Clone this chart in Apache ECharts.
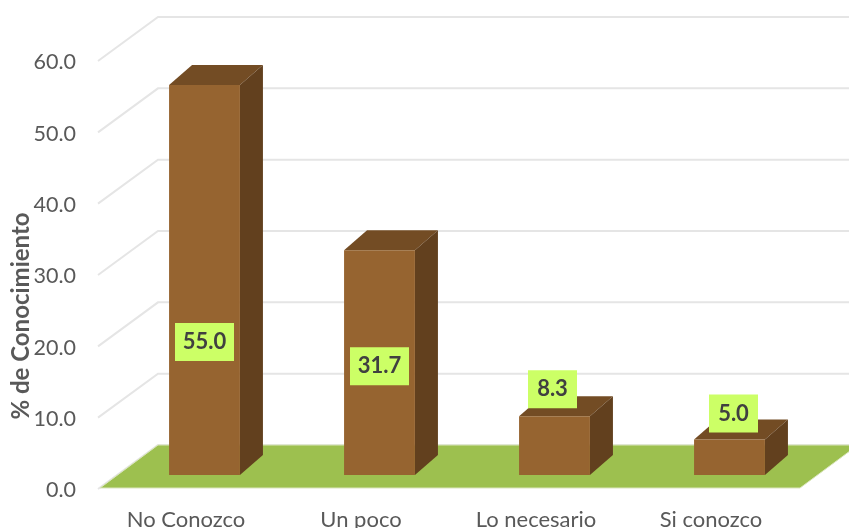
<!DOCTYPE html>
<html>
<head>
<meta charset="utf-8">
<style>
html, body { margin: 0; padding: 0; background: #fff; }
#chart { width: 849px; height: 528px; }
</style>
<script src="https://cdn.jsdelivr.net/npm/echarts@6/dist/echarts.min.js"></script>
</head>
<body>
<div id="chart"></div>
<script>
var categories = ['No Conozco', 'Un poco', 'Lo necesario', 'Si conozco'];
var values = [55.0, 31.7, 8.3, 5.0];
var ticks = [0, 10, 20, 30, 40, 50, 60];

var font = 'Lato, "Open Sans", sans-serif';
// fake 3d: depth of the box, where it stands on the floor
var floorDepth = [58, -43];
var barShift = [17, -13];
var barDepth = [23, -20];
var barScale = 0.994;
// hand placed labels in the original, px from the top of the front face
var labelDy = [257, 116, -27, -26];
var labelDx = [0, 0, -2, 4];

function renderWalls(params, api) {
    var cs = params.coordSys;
    var v = api.value(1);
    var y = api.coord([0, v])[1];
    return {
        type: 'polyline',
        shape: { points: [[cs.x - 2, y + 1], [cs.x + floorDepth[0], y + floorDepth[1]], [cs.x + cs.width + floorDepth[0], y + floorDepth[1]]] },
        style: { fill: null, stroke: '#e5e5e5', lineWidth: 2 },
        silent: true
    };
}

function renderFloor(params, api) {
    var cs = params.coordSys;
    var y = api.coord([0, 0])[1];
    return {
        type: 'polygon',
        shape: { points: [
            [cs.x, y],
            [cs.x + floorDepth[0], y + floorDepth[1]],
            [cs.x + cs.width + floorDepth[0], y + floorDepth[1]],
            [cs.x + cs.width, y]
        ] },
        style: { fill: '#9dc04f', stroke: '#dbe6bf', lineWidth: 1 },
        silent: true
    };
}

function renderBar(params, api) {
    var i = api.value(0);
    var base = api.coord([i, 0]);
    var top = api.coord([i, api.value(1)]);
    var w = api.size([1, 0])[0] * 0.405;
    var x0 = base[0] + barShift[0] - w / 2;
    var x1 = x0 + w;
    var y0 = base[1] + barShift[1];
    var y1 = y0 - (base[1] - top[1]) * barScale;
    var dx = barDepth[0], dy = barDepth[1];
    return {
        type: 'group',
        children: [
            { type: 'polygon', shape: { points: [[x0, y1], [x1, y1], [x1 + dx, y1 + dy], [x0 + dx, y1 + dy]] }, style: { fill: '#734c24' } },
            { type: 'polygon', shape: { points: [[x1, y1], [x1 + dx, y1 + dy], [x1 + dx, y0 + dy], [x1, y0]] }, style: { fill: '#62401e' } },
            { type: 'rect', shape: { x: x0, y: y1, width: w, height: y0 - y1 }, style: { fill: '#966430' } }
        ]
    };
}

function renderLabel(params, api) {
    var i = api.value(0);
    var v = api.value(1);
    var base = api.coord([i, 0]);
    var top = api.coord([i, v]);
    var cx = base[0] + barShift[0] + labelDx[i];
    var y0 = base[1] + barShift[1];
    var cy = y0 - (base[1] - top[1]) * barScale + labelDy[i];
    var text = v.toFixed(1);
    var w = text.length > 3 ? 59 : 49;
    return {
        type: 'group',
        children: [
            { type: 'rect', shape: { x: cx - w / 2, y: cy - 19, width: w, height: 38 }, style: { fill: '#ccff66' } },
            { type: 'text', style: { x: cx, y: cy, text: text, align: 'center', verticalAlign: 'middle', fill: '#404040', font: 'bold 22px ' + font } }
        ]
    };
}

var barData = values.map(function (v, i) { return [i, v]; });
var wallData = ticks.map(function (t) { return [0, t]; });

var chart = echarts.init(document.getElementById('chart'), null, { renderer: 'canvas' });
chart.setOption({
    animation: false,
    backgroundColor: '#ffffff',
    grid: { left: 100, right: 49, top: 60, bottom: 40, outerBoundsMode: 'none' },
    xAxis: {
        type: 'category',
        data: categories,
        axisLine: { show: false },
        axisTick: { show: false },
        axisLabel: { color: '#595959', fontFamily: font, fontSize: 22, margin: 21, padding: [0, 3, 0, 0] }
    },
    yAxis: {
        type: 'value',
        min: 0,
        max: 60,
        interval: 10,
        axisLine: { show: false },
        axisTick: { show: false },
        splitLine: { show: false },
        axisLabel: {
            color: '#595959',
            fontFamily: font,
            fontSize: 21.5,
            margin: 24,
            verticalAlign: 'top',
            lineHeight: 5,
            formatter: function (v) { return v.toFixed(1); }
        }
    },
    graphic: [{
        type: 'text',
        x: 21,
        y: 316,
        rotation: Math.PI / 2,
        style: { text: '% de Conocimiento', align: 'center', verticalAlign: 'middle', fill: '#595959', font: 'bold 24px ' + font }
    }],
    series: [
        { type: 'custom', renderItem: renderWalls, data: wallData, clip: false, z: 1, encode: { x: 0, y: 1 } },
        { type: 'custom', renderItem: renderFloor, data: [[0, 0]], clip: false, z: 2, encode: { x: 0, y: 1 } },
        { type: 'custom', renderItem: renderBar, data: barData, clip: false, z: 3, encode: { x: 0, y: 1 } },
        { type: 'custom', renderItem: renderLabel, data: barData, clip: false, z: 4, encode: { x: 0, y: 1 } }
    ]
});
</script>
</body>
</html>
